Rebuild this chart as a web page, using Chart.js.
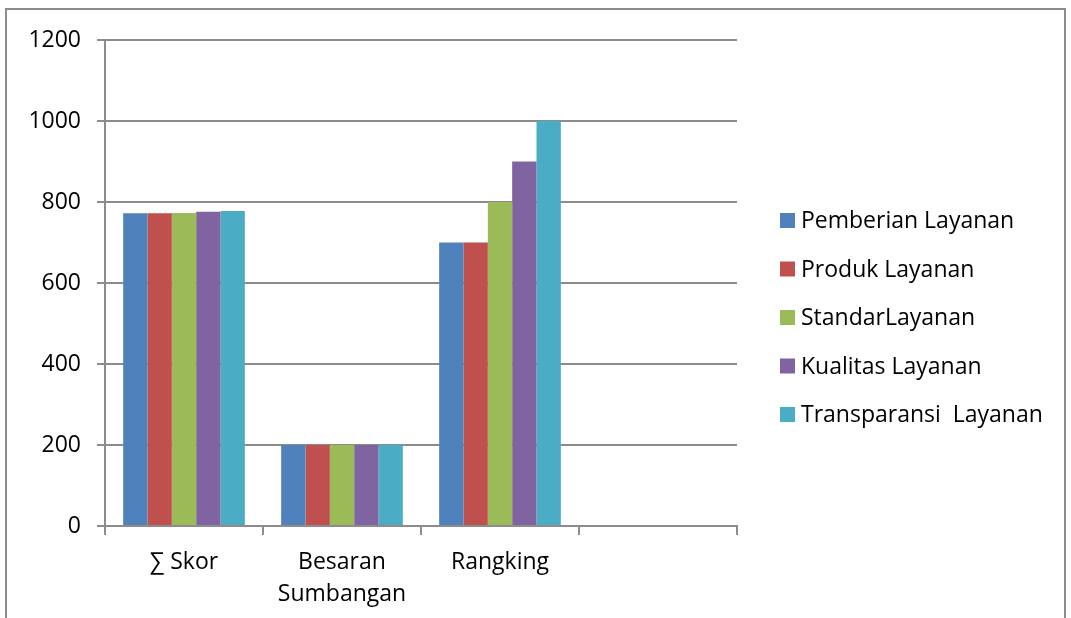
<!DOCTYPE html>
<html>
<head>
<meta charset="utf-8">
<script src="https://cdn.jsdelivr.net/npm/chart.js@4/dist/chart.umd.min.js"></script>
<style>
  html, body { margin: 0; padding: 0; background: #fff; overflow: hidden; }
  #frame {
    position: absolute; left: 5px; top: 8px;
    width: 1061px; height: 700px;
    border: 2px solid #8c8c8c; box-sizing: border-box;
  }
  #chart { position: absolute; left: 0; top: 0; }
</style>
</head>
<body>
<div id="frame"></div>
<canvas id="chart" width="1071" height="618"></canvas>
<script>
// categories on the x axis (the fourth slot is left empty)
var categories = ["\u2211 Skor", ["Besaran", "Sumbangan"], "Rangking", ""];

var seriesNames = [
    "Pemberian Layanan",
    "Produk Layanan",
    "StandarLayanan",
    "Kualitas Layanan",
    "Transparansi  Layanan"
];

var pemberian    = [772, 200, 700, null];
var produk       = [772, 200, 700, null];
var standar      = [773, 200, 800, null];
var kualitas     = [776, 200, 900, null];
var transparansi = [778, 200, 1000, null];

var yTicks = [0, 200, 400, 600, 800, 1000, 1200];

var colors = ["#4f81bd", "#c0504d", "#9bbb59", "#8064a2", "#4bacc6"];
var seriesValues = [pemberian, produk, standar, kualitas, transparansi];

var fontFamily = "'Open Sans', 'DejaVu Sans', sans-serif";
var fontSize = 23;
var gridColor = "#8c8c8c";

var datasets = seriesNames.map(function (name, i) {
    return {
        label: name,
        data: seriesValues[i],
        backgroundColor: colors[i],
        borderWidth: 0,
        barPercentage: 1,
        categoryPercentage: 0.77
    };
});

/**
 * Legend on the right, stacked squares with labels
 */
var sideLegend = {
    id: "sideLegend",
    afterDraw: function (chart) {
        var ctx = chart.ctx;
        var area = chart.chartArea;
        var spacing = 48.5;
        var n = chart.data.datasets.length;
        var x = area.right + 43;
        var y0 = chart.height / 2 + 8.5 - (n - 1) * spacing / 2;
        ctx.save();
        ctx.font = fontSize + "px " + fontFamily;
        ctx.textBaseline = "middle";
        chart.data.datasets.forEach(function (ds, i) {
            var y = y0 + i * spacing;
            ctx.fillStyle = ds.backgroundColor;
            ctx.fillRect(x, y - 7.5, 15, 15);
            ctx.fillStyle = "#000";
            ctx.fillText(ds.label, x + 21, y + 1);
        });
        ctx.restore();
    }
};

var ctx = document.getElementById("chart").getContext("2d");
new Chart(ctx, {
    type: "bar",
    data: { labels: categories, datasets: datasets },
    plugins: [sideLegend],
    options: {
        responsive: false,
        animation: false,
        layout: { padding: { top: 40, left: 0, right: 334, bottom: 0 } },
        plugins: {
            legend: { display: false },
            tooltip: { enabled: false }
        },
        scales: {
            x: {
                afterFit: function (scale) { scale.height = 92; },
                grid: {
                    offset: true,
                    drawOnChartArea: false,
                    drawTicks: true,
                    tickLength: 9,
                    color: gridColor,
                    lineWidth: 2
                },
                border: { color: gridColor, width: 2 },
                ticks: {
                    color: "#000",
                    padding: 12,
                    maxRotation: 0,
                    autoSkip: false,
                    font: { family: fontFamily, size: fontSize, lineHeight: 1.38 }
                }
            },
            y: {
                min: 0,
                max: 1200,
                afterFit: function (scale) { scale.width = 105; },
                afterBuildTicks: function (scale) {
                    scale.ticks = yTicks.map(function (v) { return { value: v }; });
                },
                grid: {
                    color: gridColor,
                    lineWidth: 2,
                    tickLength: 8
                },
                border: { color: gridColor, width: 2 },
                ticks: {
                    color: "#000",
                    padding: 16,
                    callback: function (v) { return String(v); },
                    font: { family: fontFamily, size: fontSize }
                }
            }
        }
    }
});
</script>
</body>
</html>
